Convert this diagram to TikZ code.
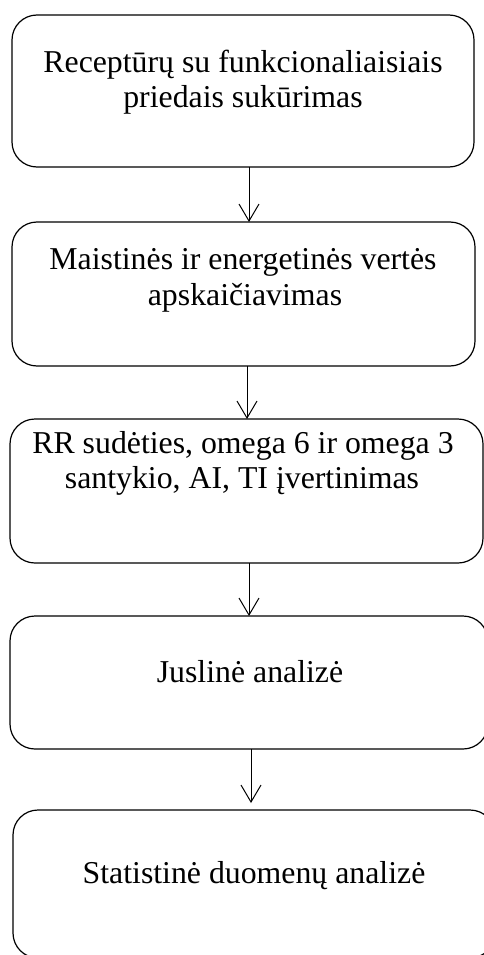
\documentclass[tikz,border=0pt]{standalone}
\usepackage{fontspec}
\setmainfont{Liberation Serif}
\usetikzlibrary{arrows.meta}
\begin{document}
\begin{tikzpicture}[x=1pt,y=-1pt,
  stepbox/.style={draw=black, line width=1.2pt, rounded corners=25pt, rectangle, inner sep=0pt, outer sep=0pt},
  txt/.style={inner sep=0pt, outer sep=0pt, align=center, anchor=base, font=\fontsize{31.8}{35.5}\selectfont},
  arr/.style={draw=black, line width=1pt, -{Straight Barb[length=17pt,width=20pt,line width=1pt]}}
]
\useasboundingbox (0,0) rectangle (484,955);
\node[stepbox, minimum width=462pt, minimum height=152pt] (b1) at (243,91) {};
\node[stepbox, minimum width=463pt, minimum height=144pt] (b2) at (243.5,294) {};
\node[stepbox, minimum width=473pt, minimum height=144pt] (b3) at (246.5,491) {};
\node[stepbox, minimum width=478pt, minimum height=133pt] (b4) at (249,682.5) {};
\node[stepbox, minimum width=482pt, minimum height=148pt] (b5) at (254,884) {};

\node[txt] (t1a) at (243,73) {Receptūrų su funkcionaliaisiais};
\node[txt] (t1b) at (243,108) {priedais sukūrimas};
\node[txt] (t2a) at (243,269) {Maistinės ir energetinės vertės};
\node[txt] (t2b) at (245,305) {apskaičiavimas};
\node[txt] (t3a) at (243,453) {RR sudėties, omega 6 ir omega 3};
\node[txt] (t3b) at (242,488) {santykio, AI, TI įvertinimas};
\node[txt] (t4) at (250,682) {Juslinė analizė};
\node[txt] (t5) at (254,883) {Statistinė duomenų analizė};

\draw[arr] ([xshift=6pt]b1.south) -- ([xshift=6pt]b1.south |- b2.north);
\draw[arr] ([xshift=3.5pt]b2.south) -- ([xshift=3.5pt]b2.south |- b3.north);
\draw[arr] ([xshift=2.5pt]b3.south) -- ([xshift=2.5pt]b3.south |- b4.north);
\draw[arr] ([xshift=2pt]b4.south) -- ([xshift=2pt,yshift=7pt]b4.south |- b5.north);
\end{tikzpicture}
\end{document}
